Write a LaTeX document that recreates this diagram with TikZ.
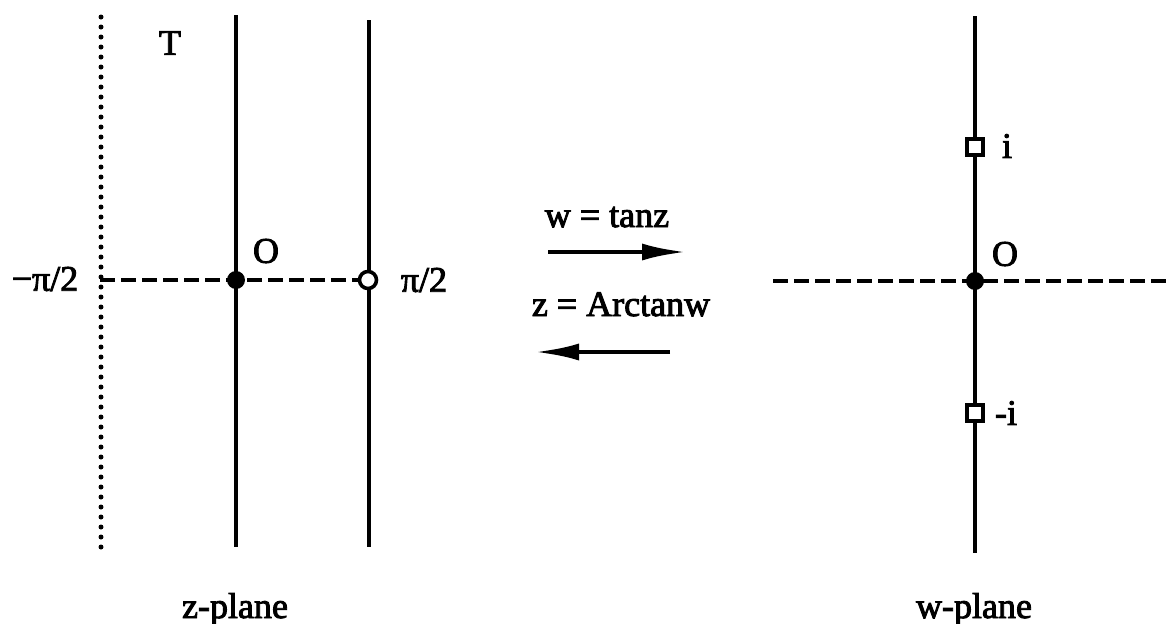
\documentclass[tikz,border=0pt]{standalone}
\usepackage{fontspec}
\setmainfont{Liberation Serif}
\newfontfamily\labelfont[FakeBold=2.5]{Liberation Serif}
\usetikzlibrary{arrows.meta}
\begin{document}
\begin{tikzpicture}[x=1pt,y=-1pt,
  axis/.style={line width=4.2pt},
  cut/.style={line width=4.2pt, dash pattern=on 15pt off 6pt},
  dotline/.style={line width=5pt, line cap=round, dash pattern=on 0pt off 10pt},
  lbl/.style={font=\labelfont\fontsize{36}{42}\selectfont, inner sep=0pt},
  fdot/.style={circle, fill=black, minimum size=18pt, inner sep=0pt},
  odot/.style={circle, draw=black, fill=white, line width=3.6pt, minimum size=17pt, inner sep=0pt},
  sq/.style={rectangle, draw=black, fill=white, line width=3.6pt, minimum size=16pt, inner sep=0pt},
  map/.style={line width=4.5pt, -{Latex[length=44pt,width=17pt]}}]
\useasboundingbox (0,0) rectangle (1171,624);

% z-plane: strip boundaries and real axis
\coordinate (dTop) at (101,17);
\coordinate (dBot) at (101,548);
\coordinate (aTop) at (236,15);
\coordinate (aBot) at (236,547);
\coordinate (bTop) at (369,20);
\coordinate (bBot) at (369,547);
\coordinate (hL) at (100,280);
\coordinate (zO) at (236,280);
\coordinate (zP) at (368,280);

\draw[dotline] (dTop) -- (dBot);
\draw[axis] (aTop) -- (aBot);
\draw[axis] (bTop) -- (bBot);
\draw[cut] (hL) -- (zP);

\node[fdot] (O1) at (zO) {};
\node[odot] (P) at (zP) {};

\node[lbl] (T) at (170,43) {T};
\node[lbl] (lo1) at (266,251) {O};
\node[lbl] (mpi) at (45,279) {−π/2};
\node[lbl] (ppi) at (424,280) {π/2};
\node[lbl, anchor=base] (zpl) at (235,618) {z-plane};

% mapping arrows
\coordinate (r1) at (548,252);
\coordinate (r2) at (686,252);
\coordinate (l1) at (670,352);
\coordinate (l2) at (535,352);
\draw[map] (r1) -- (r2);
\draw[map] (l1) -- (l2);
\node[lbl, anchor=base] (tanl) at (607,227) {w = tanz};
\node[lbl, anchor=base] (atanl) at (621,316) {z = Arctanw};

% w-plane: imaginary axis, real axis, branch points
\coordinate (wTop) at (975,16);
\coordinate (wBot) at (975,553);
\coordinate (hR1) at (773,281);
\coordinate (hR2) at (1171,281);
\coordinate (wO) at (975,281);
\coordinate (wi) at (975,147);
\coordinate (wmi) at (975,413);

\draw[axis] (wTop) -- (wBot);
\draw[cut] (hR1) -- (hR2);
\node[fdot] (O2) at (wO) {};
\node[sq] (Si) at (wi) {};
\node[sq] (Smi) at (wmi) {};

\node[lbl] (lo2) at (1005,254) {O};
\node[lbl] (li) at (1007,146) {i};
\node[lbl] (lmi) at (1006,413) {-i};
\node[lbl, anchor=base] (wpl) at (974,618) {w-plane};
\end{tikzpicture}
\end{document}
